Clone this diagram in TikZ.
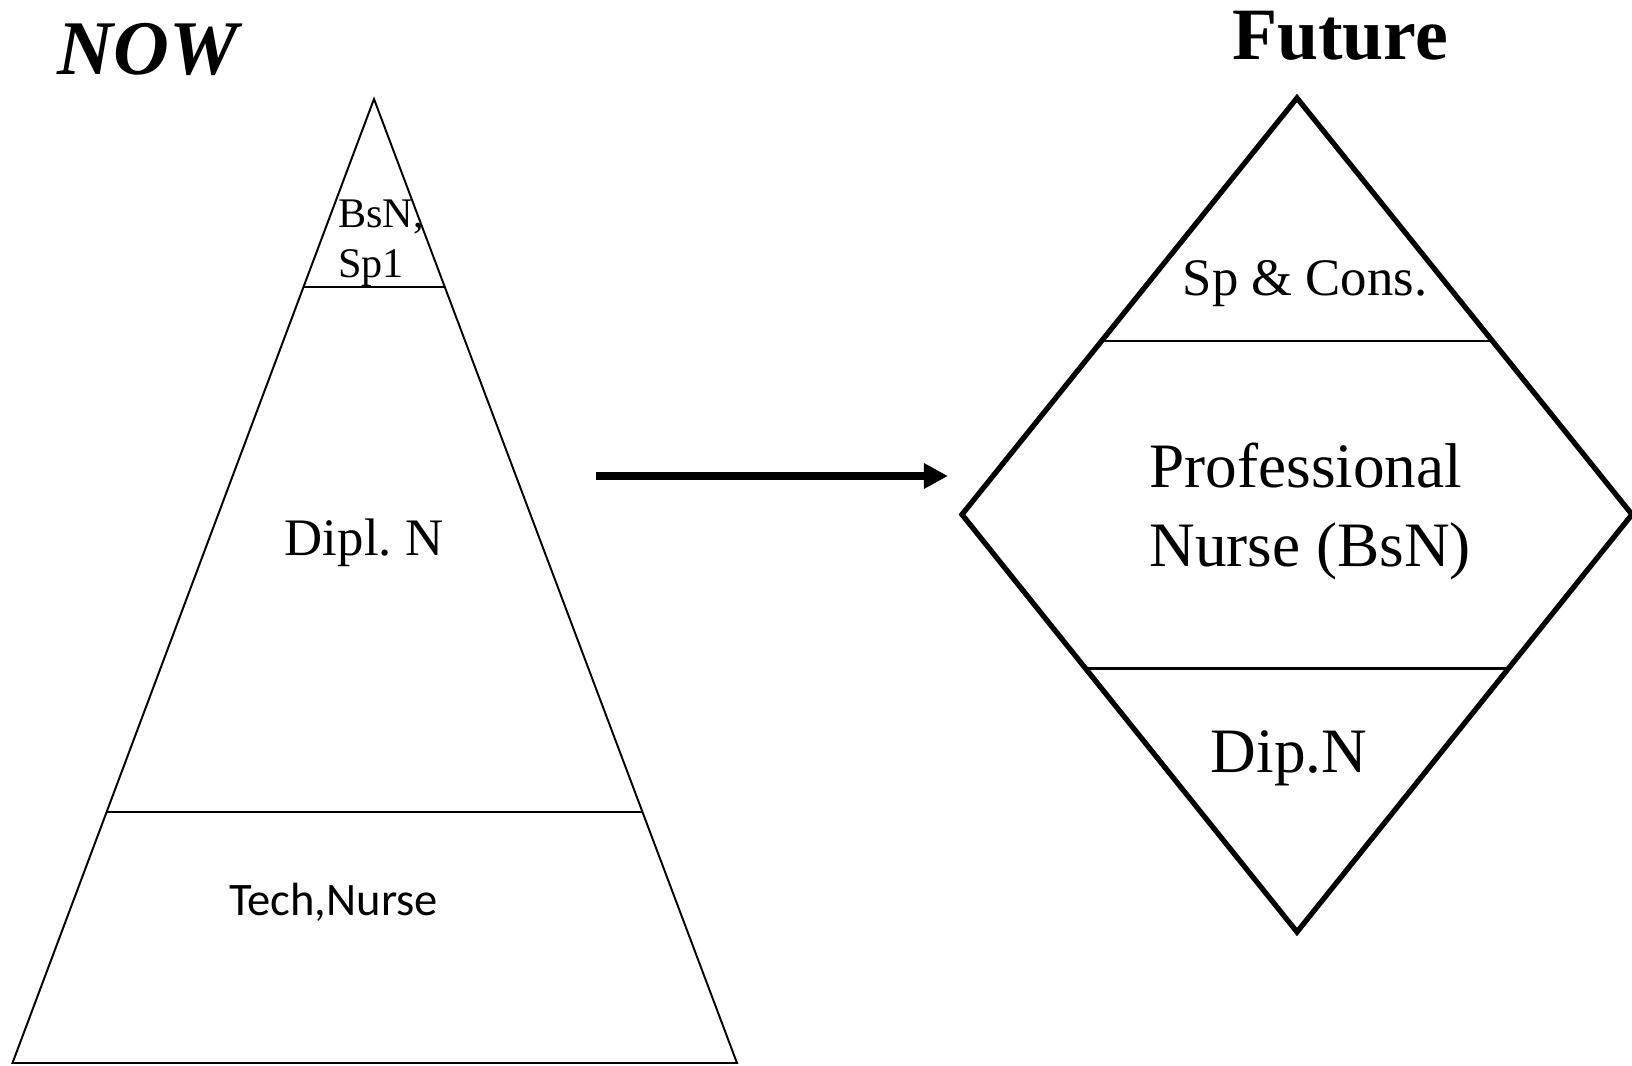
\documentclass[tikz,border=0pt]{standalone}
\usepackage{fontspec}
\setmainfont{Liberation Serif}
\newfontfamily\calibrifont{Carlito}
\usetikzlibrary{arrows.meta}
\frenchspacing

\begin{document}
\begin{tikzpicture}[scale=0.2]
    \tikzstyle{every node}+=[inner sep=0pt]
    \tikzstyle{thinline}=[black, line width=1.1pt]
    \tikzstyle{thickline}=[black, line width=3pt]
    \tikzstyle{midline}=[black, line width=1.7pt]
    \useasboundingbox (0,0) rectangle (163.2,-106.5);
    % headings
    \draw (14.8,-7.4) node [anchor=base, font=\fontsize{44}{52}\selectfont\bfseries\itshape] (now) {NOW};
    \draw (134.0,-5.9) node [anchor=base, font=\fontsize{42}{50}\selectfont\bfseries] (future) {Future};
    % pyramid (now)
    \coordinate (tTop) at (37.4,-9.9);
    \coordinate (tL) at (1.25,-106.3);
    \coordinate (tR) at (73.7,-106.3);
    \draw [thinline, line join=miter] (tTop) -- (tR) -- (tL) -- cycle;
    \draw [thinline] (30.4,-28.7) -- (44.5,-28.7);
    \draw [thinline] (10.7,-81.2) -- (64.3,-81.2);
    \draw (33.8,-20.0) node [anchor=north west, align=left, font=\fontsize{24}{28.45}\selectfont] (bsn) {BsN,\\Sp1};
    \draw (36.4,-55.5) node [anchor=base, font=\fontsize{30}{36}\selectfont] (dipl) {Dipl. N};
    \draw (33.35,-91.5) node [anchor=base, font=\fontsize{26.5}{31}\selectfont\calibrifont] (tech) {Tech,Nurse};
    % arrow
    \coordinate (arrS) at (59.6,-47.6);
    \coordinate (arrE) at (94.8,-47.6);
    \draw [black, line width=4.8pt, -{Triangle[length=13.7pt,width=13.7pt]}] (arrS) -- (arrE);
    % diamond (future)
    \coordinate (dTop) at (129.7,-9.8);
    \coordinate (dR) at (163.2,-51.45);
    \coordinate (dBot) at (129.7,-93.2);
    \coordinate (dL) at (96.2,-51.45);
    \draw [thickline, line join=miter] (dTop) -- (dR) -- (dBot) -- (dL) -- cycle;
    \draw [midline] (110.3,-34.1) -- (149.1,-34.1);
    \draw [midline] (108.8,-66.8) -- (150.8,-66.8);
    \draw (130.5,-29.5) node [anchor=base, font=\fontsize{30}{36}\selectfont] (spcons) {Sp \& Cons.};
    \draw (114.9,-44.3) node [anchor=north west, align=left, font=\fontsize{36}{45}\selectfont] (prof) {Professional\\Nurse (BsN)};
    \draw (128.9,-77.2) node [anchor=base, font=\fontsize{36}{43}\selectfont] (dipn) {Dip.N};
\end{tikzpicture}
\end{document}
